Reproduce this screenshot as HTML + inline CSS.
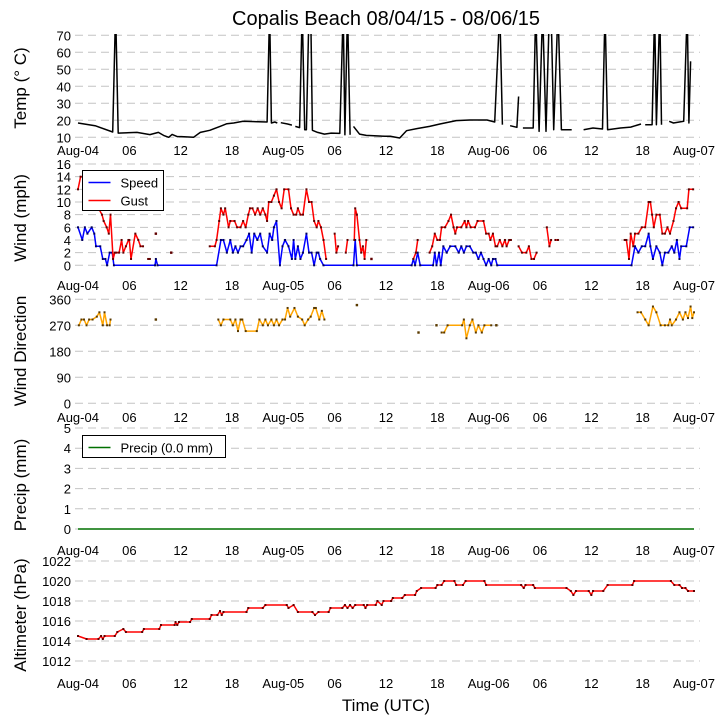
<!DOCTYPE html>
<html><head><meta charset="utf-8"><style>
html,body{margin:0;padding:0;background:#fff;}
svg{display:block;font-family:"Liberation Sans",sans-serif;}
</style></head><body>
<svg id="chart" width="726" height="725" viewBox="0 0 726 725" xmlns="http://www.w3.org/2000/svg">
<defs>
<clipPath id="clipT"><rect x="70" y="34" width="640" height="125"/></clipPath>
</defs>
<text x="386" y="25" font-size="20" text-anchor="middle">Copalis Beach 08/04/15 - 08/06/15</text>
<text x="386" y="711" font-size="17" text-anchor="middle">Time (UTC)</text>
</svg>
<script>
const xTickLabels = ["Aug-04","06","12","18","Aug-05","06","12","18","Aug-06","06","12","18","Aug-07"];
const xTickHours = [0,6,12,18,24,30,36,42,48,54,60,66,72];

const tempHours = [0,2,4.05,4.4,4.7,6.9,8.4,9.4,10,10.6,11,11.6,12.1,13.5,14.3,15.4,16.6,17.4,18.2,19.3,22.1,22.4,22.6,23,23.3,23.5,23.7,24.5,25,25.2,25.4,25.9,26.2,26.5,26.7,27.0,27.2,27.4,28,28.8,29.6,30.6,31.0,31.2,31.5,31.8,32.0,32.2,32.9,33.7,35.9,36.5,37.6,38.4,39.6,41.1,42.3,44.2,45.8,47.8,48.7,49.3,49.6,50.0,50.5,51.3,51.5,51.7,52,53.2,53.5,53.9,54.3,54.7,55.1,55.3,55.6,56.1,56.5,57.7,58.4,59.1,60.2,61.3,61.6,61.9,63.4,64.6,65.8,66.0,66.3,67.1,67.4,67.6,68,68.2,68.6,69.1,69.6,70.8,71.2,71.4,71.6];
const tempVals = [18.4,16.8,13.1,85,12.5,12.9,11.6,12.9,11.1,10.0,11.7,10.4,10.4,10.0,12.9,14.1,16.4,18.0,18.4,19.4,19.0,85,18.4,19.0,18.4,null,18.6,17.8,17.2,null,16.4,15.7,85,14.5,14.5,85,85,14.1,12.9,11.9,12.5,12.3,85,11.5,85,11.5,null,16.4,11.9,11.1,10.6,10.6,9.6,13.9,15.1,16.4,17.8,19.8,20.2,20.2,19.0,85,17.4,null,16.8,15.9,34,null,15.5,15.5,85,13.5,85,13.5,85,85,14.5,85,14.5,14.5,null,14.5,15.5,14.9,85,14.5,15.5,16.0,17.8,null,17.4,17.4,85,17.4,85,17.4,null,19.4,18.4,19.4,85,18.4,54.7];

const speedHours = [0,0.5,0.8,1.1,1.6,1.9,2.1,2.6,2.9,3.2,3.4,3.7,4.0,4.2,9.0,9.1,9.3,16.2,16.7,17,17.4,17.8,18.1,18.4,18.7,19,19.3,19.7,20,20.3,20.6,20.96,21.3,21.6,22.1,22.4,22.7,22.9,23.2,23.6,23.9,24.2,24.6,25,25.2,25.4,25.7,26,26.3,26.7,27,27.3,27.6,27.9,28.1,28.3,28.7,32.2,32.4,32.6,39,39.2,39.4,39.7,40,41.5,41.7,41.9,42.2,42.4,42.7,43.1,43.5,44.1,44.5,44.8,45.1,45.4,45.8,46.2,46.5,46.8,47.1,47.4,47.7,48,48.3,48.5,48.8,49,64.7,65.1,65.5,65.9,66.3,66.7,66.9,67.2,67.6,68,68.3,68.6,69,69.4,69.7,70,70.3,70.5,71.1,71.5,71.9];
const speedVals = [6,4,6,5,6,5,3,3,1,1,0,2,2,0,0,1,0,0,4,4,2,4,2,3,2,3,3,4,5,2,5,4,5,3,2,5,4,6,7,0,3,4,3,1,4,1,3,1,2,5,2,2,0,2,2,1,0,0,4,0,0,1,0,2,0,0,2,0,2,0,3,2,3,3,2,3,2,3,3,2,2,1,2,1,0,1,0,1,1,0,0,3,2,3,3,5,3,1,3,2,0,2,2,3,2,4,1,3,3,6,6];

const gustHours = [0,0.3,0.6,1,2,2.8,3.0,3.35,3.6,3.8,4.1,4.3,4.5,4.8,5.1,5.3,5.6,5.9,6.0,6.2,6.7,7.05,7.3,7.6,7.9,8.2,8.4,8.7,9.1,9.3,10.9,11.1,15.4,16,16.2,16.5,16.7,17,17.2,17.6,17.8,18.3,18.6,19,19.3,19.6,19.9,20.1,20.4,20.7,21,21.3,21.6,21.9,22.1,22.3,22.6,22.9,23.2,23.5,23.8,24.1,24.6,24.9,25.2,25.5,25.7,26,26.3,26.7,27,27.3,27.6,27.9,28.1,28.4,28.7,29.0,29.5,30,30.2,30.4,30.8,31.3,31.5,31.9,32.3,32.4,32.6,32.9,33.1,33.3,33.5,33.7,34.0,34.3,34.5,39.2,39.5,39.7,40.5,41.1,41.4,41.7,42,42.3,42.5,42.9,43.3,43.6,43.9,44.1,44.3,44.8,45.2,45.4,45.6,45.9,46.4,46.7,47.4,47.7,48,48.2,48.5,48.8,49,49.3,49.6,49.9,50.1,50.4,50.6,51.0,51.5,51.9,52.4,52.7,53,53.3,53.6,54.2,54.8,55.1,55.3,55.5,55.8,56.1,57,63.9,64.1,64.4,64.6,64.9,65.1,65.5,65.9,66.3,66.7,66.9,67.1,67.3,67.6,68,68.3,68.6,68.9,69.2,69.6,69.9,70.2,70.5,71.2,71.4,71.9];
const gustVals = [12,14,14,12,10,8,7,6,5,8,1,2,2,2,4,2,3,4,4,1,5,4,3,3,null,1,1,null,5,null,2,null,3,3,4,7,9,8,9,6,7,7,6,6,7,6,8,9,9,8,9,8,9,8,7,10,10,11,12,10,9,12,12,9,8,8,9,8,8,12,10,10,7,6,7,6,4,1,null,5,2,3,null,2,4,null,4,9,8,4,2,3,1,4,null,1,null,1,2,4,null,2,3,5,4,4,6,6,7,8,6,5,6,6,7,6,7,6,6,7,7,5,5,4,5,3,3,4,3,4,3,4,4,null,3,2,2,3,1,1,2,null,6,3,4,null,4,4,null,4,4,1,5,3,5,5,6,6,10,10,8,6,8,8,5,5,6,5,7,9,10,9,9,12,12];

const dirHours = [0.1,0.4,0.7,1.0,1.3,1.7,2.2,2.5,2.9,3.1,3.4,3.55,3.7,3.8,4.0,9.1,9.3,16.4,16.7,17.0,17.8,18.1,18.4,18.7,19.0,19.2,19.6,20.9,21.2,21.6,21.9,22.2,22.6,22.9,23.2,23.5,23.9,24.2,24.5,24.8,25.3,25.7,26.2,26.5,26.9,27.2,27.6,27.8,28.2,28.5,28.8,29.0,32.6,32.8,39.8,40.0,41.9,42.1,42.5,42.8,43.2,44.9,45.1,45.4,45.8,46.1,46.5,46.8,47.2,47.5,48.3,48.6,48.9,49.1,65.4,65.8,66.3,66.7,67.2,67.6,68.1,68.6,69.0,69.2,69.4,69.9,70.3,70.7,71.0,71.3,71.6,71.8,72];
const dirVals = [270,290,290,270,290,290,300,315,270,315,270,null,270,290,null,290,null,290,270,290,290,270,290,250,290,290,250,250,290,270,290,270,290,270,290,270,290,290,330,300,330,300,290,270,290,300,330,330,290,320,290,null,340,null,245,null,270,null,245,245,270,270,290,225,270,290,245,270,245,270,270,null,270,null,315,315,290,270,335,315,270,270,270,290,270,290,315,290,315,295,335,295,315];

const precipHours = [0,72];
const precipVals = [0,0];

const altHours = [0,1,2.4,2.7,2.9,3.1,4.3,4.6,5.3,5.6,7.5,7.7,9.5,9.7,11.3,11.4,11.6,11.8,13.1,13.3,15.4,15.6,16.3,16.6,16.8,17.0,19.7,19.9,21.6,21.9,24.4,24.6,25.2,25.7,27.4,27.7,28.1,29.3,29.5,30.9,31.2,31.5,31.8,32.1,32.4,33.4,33.6,33.8,34.8,35.0,35.5,35.7,36.6,36.8,37.9,38.2,39.4,39.6,40.1,41.8,42.0,42.5,42.8,44.0,44.2,45.0,45.3,47.5,47.7,51.8,52.1,52.3,53.2,53.4,57.1,57.6,57.9,58.2,59.7,60.0,60.2,61.4,61.9,64.8,65.0,69.3,69.7,70.3,70.6,71.0,71.3,72];
const altVals = [1014.5,1014.2,1014.2,1014.5,1014.2,1014.5,1014.5,1014.9,1015.2,1014.9,1014.9,1015.2,1015.2,1015.6,1015.6,1015.9,1015.6,1015.9,1015.9,1016.2,1016.2,1016.6,1016.6,1017.0,1016.6,1016.9,1016.9,1017.3,1017.3,1017.6,1017.6,1017.3,1017.6,1016.9,1016.9,1016.6,1016.9,1016.9,1017.3,1017.3,1017.6,1017.3,1017.6,1017.3,1017.6,1017.6,1017.3,1017.6,1017.6,1018.0,1017.6,1018.0,1018.0,1018.3,1018.3,1018.6,1018.6,1019.0,1019.3,1019.3,1019.6,1019.6,1020.0,1020.0,1019.6,1019.6,1020.0,1020.0,1019.6,1019.6,1019.3,1019.6,1019.6,1019.3,1019.3,1019.0,1018.6,1019.0,1019.0,1018.6,1019.0,1019.0,1019.6,1019.6,1020.0,1020.0,1019.6,1019.6,1019.3,1019.3,1019.0,1019.0];

const tempTicks = [10,20,30,40,50,60,70];
const windTicks = [0,2,4,6,8,10,12,14,16];
const dirTicks = [0,90,180,270,360];
const precipTicks = [0,1,2,3,4,5];
const altTicks = [1012,1014,1016,1018,1020,1022];

const NS = "http://www.w3.org/2000/svg";
const svg = document.getElementById("chart");
const X0 = 78, X1 = 694;
function xScale(h){ return X0 + h*(X1-X0)/72; }
function lin(v0,y0,v1,y1){ return v => y0 + (v-v0)*(y1-y0)/(v1-v0); }

const panels = [
  {name:"temp", y:lin(10,137.3,70,35.3), ticks:tempTicks, labelY:155, title:"Temp (\u00B0 C)", titleY:88},
  {name:"wind", y:lin(0,265.3,16,164), ticks:windTicks, labelY:290, title:"Wind (mph)", titleY:218},
  {name:"direction", y:lin(0,403.3,360,299.3), ticks:dirTicks, labelY:422, title:"Wind Direction", titleY:351},
  {name:"precip", y:lin(0,529,5,428), ticks:precipTicks, labelY:555, title:"Precip (mm)", titleY:485},
  {name:"altimeter", y:lin(1012,661,1022,561), ticks:altTicks, labelY:688, title:"Altimeter (hPa)", titleY:615}
];

function mk(tag, attrs, parent){
  const e = document.createElementNS(NS, tag);
  for (const k in attrs) e.setAttribute(k, attrs[k]);
  (parent||svg).appendChild(e);
  return e;
}

panels.forEach(p => {
  const g = mk("g", {});
  
  
  p.g = g;
  p.ticks.forEach(t => {
    const yy = p.y(t);
    const gl = mk("line", {x1:75, x2:700, y1:yy, y2:yy, stroke:"#c4c4c4", "stroke-width":1, "stroke-dasharray":"8,5"}, g);
    
    
    const tl = mk("text", {x:71, y:yy+5, "font-size":13, "text-anchor":"end"}, g);
    tl.textContent = t;
    
    
  });
  xTickHours.forEach((h,i) => {
    const tl = mk("text", {x:xScale(h), y:p.labelY, "font-size":13, "text-anchor":"middle"}, g);
    tl.textContent = xTickLabels[i];
    
    
  });
  const yt = mk("text", {x:0, y:0, "font-size":17, "text-anchor":"middle", transform:"translate(26," + p.titleY + ") rotate(-90)"}, g);
  yt.textContent = p.title;
  
  
});

function drawSeries(p, hours, vals, color, mcolor, name, clip){
  const g = mk("g", clip ? {"clip-path":"url(#clipT)"} : {}, p.g);
  
  
  let d = "", segStart = true, segLen = 0, lastPt = null;
  const singles = [];
  for (let i=0;i<hours.length;i++){
    const v = vals[i];
    if (v === null || v === undefined){
      if (segLen === 1 && lastPt) singles.push(lastPt);
      segStart = true; segLen = 0; continue;
    }
    const px = xScale(hours[i]), py = p.y(v);
    d += (segStart ? "M" : "L") + px.toFixed(1) + "," + py.toFixed(1);
    segStart = false; segLen++; lastPt = [px,py];
  }
  if (segLen === 1 && lastPt) singles.push(lastPt);
  const path = mk("path", {d:d, fill:"none", stroke:color, "stroke-width":1.5, "stroke-linejoin":"round"}, g);
  
  
  if (mcolor){
    for (let i=0;i<hours.length;i++){
      if (vals[i] === null) continue;
      const m = mk("rect", {x:xScale(hours[i])-1, y:p.y(vals[i])-1, width:2, height:2, fill:mcolor}, g);
      
      
    }
  }
  singles.forEach(pt => {
    const m = mk("rect", {x:pt[0]-1.2, y:pt[1]-1.2, width:2.4, height:2.4, fill:mcolor||color}, g);
    
    
  });
}

drawSeries(panels[0], tempHours, tempVals, "#000", null, "temperature", true);
drawSeries(panels[1], speedHours, speedVals, "#0000ff", "#000060", "wind-speed", false);
drawSeries(panels[1], gustHours, gustVals, "#ff0000", "#600000", "wind-gust", false);
drawSeries(panels[2], dirHours, dirVals, "#ffa500", "#5a3a00", "wind-direction", false);
drawSeries(panels[3], precipHours, precipVals, "#007000", null, "precip", false);
drawSeries(panels[4], altHours, altVals, "#ff0000", "#600000", "altimeter", false);

// legends
function legend(x,y,w,h,items,name){
  const g = mk("g", {});
  
  
  mk("rect", {x:x, y:y, width:w, height:h, fill:"#fff", stroke:"#000", "stroke-width":1}, g);
  items.forEach((it,i) => {
    const yy = y + 12 + i*18;
    const ln = mk("line", {x1:x+6, x2:x+28, y1:yy, y2:yy, stroke:it.c, "stroke-width":1.5}, g);
    
    
    const t = mk("text", {x:x+38, y:yy+5, "font-size":13}, g);
    t.textContent = it.t;
    
    
  });
}
legend(82.5,170.5,81,40,[{c:"#0000ff",t:"Speed"},{c:"#ff0000",t:"Gust"}],"wind-legend");
legend(82.5,435.5,143,22,[{c:"#007000",t:"Precip (0.0 mm)"}],"precip-legend");
</script>
</body></html>
